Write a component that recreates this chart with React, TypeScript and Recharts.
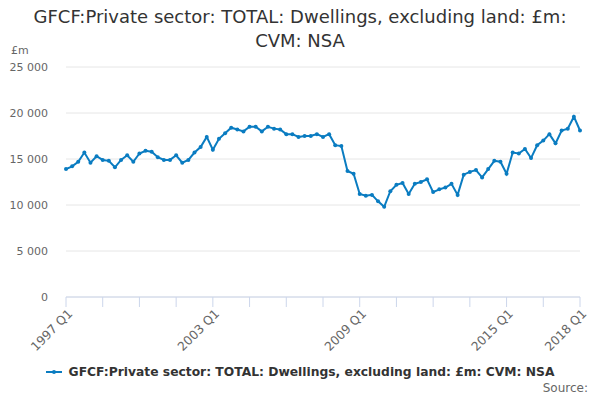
import React from 'react';
import { LineChart, Line, XAxis, YAxis, CartesianGrid } from 'recharts';

const quarters: string[] = [];
for (let y = 1997; y <= 2018; y++) {
  for (let q = 1; q <= 4; q++) {
    if (y === 2018 && q > 1) break;
    quarters.push(`${y} Q${q}`);
  }
}

const values: number[] = [
  13900, 14200, 14700, 15700, 14600, 15300, 14900, 14800, 14100, 14900,
  15400, 14700, 15600, 15900, 15800, 15200, 14900, 14900, 15400, 14600,
  14900, 15700, 16300, 17400, 16000, 17200, 17800, 18400, 18200, 18000,
  18500, 18500, 18000, 18500, 18300, 18200, 17700, 17700, 17400, 17500,
  17500, 17700, 17400, 17700, 16500, 16400, 13700, 13400, 11200, 11000,
  11100, 10400, 9800, 11500, 12200, 12400, 11200, 12300, 12500, 12800,
  11400, 11700, 11900, 12300, 11100, 13300, 13600, 13800, 13000, 13900,
  14800, 14700, 13400, 15700, 15600, 16100, 15100, 16500, 17000, 17700,
  16700, 18100, 18300, 19600, 18100,
];

const xTicks: number[] = [0, 6, 12, 18, 24, 30, 36, 42, 48, 54, 60, 66, 72, 78, 84];
const xLabelIdx: number[] = [0, 24, 48, 72, 84];
const yTicks: number[] = [0, 5000, 10000, 15000, 20000, 25000];

const seriesName = 'GFCF:Private sector: TOTAL: Dwellings, excluding land: £m: CVM: NSA';
const data = values.map((v, i) => ({ idx: i, label: quarters[i], value: v }));

const FONT = '"DejaVu Sans", sans-serif';
const LINE_COLOR = '#0a7cc1';

const fmtY = (v: number) => {
  if (v === 0) return '0';
  const s = String(v);
  return s.slice(0, s.length - 3) + ' ' + s.slice(s.length - 3);
};

const XTick = (props: any) => {
  const { x, y, payload } = props;
  const i = payload.value as number;
  if (!xLabelIdx.includes(i)) return null;
  return (
    <g transform={`translate(${x + 3},${y + 4})`}>
      <text
        x={0}
        y={0}
        dy={4}
        dx={2}
        textAnchor="end"
        transform="rotate(-45)"
        fill="#666666"
        fontSize={12.3}
        fontFamily={FONT}
      >
        {quarters[i]}
      </text>
    </g>
  );
};

export default function App() {
  return (
    <div style={{ position: 'absolute', left: 0, top: 0, width: 600, height: 400, background: '#fff' }}>
      <div
        style={{
          position: 'absolute',
          left: 0,
          top: 5,
          width: 600,
          textAlign: 'center',
          fontFamily: FONT,
          fontSize: 18,
          lineHeight: '24px',
          color: '#333333',
        }}
      >
        GFCF:Private sector: TOTAL: Dwellings, excluding land: £m:
        <br />
        CVM: NSA
      </div>
      <div
        style={{
          position: 'absolute',
          left: 11,
          top: 44,
          fontFamily: FONT,
          fontSize: 11,
          color: '#666666',
        }}
      >
        £m
      </div>
      <div
        style={{
          position: 'absolute',
          left: 0,
          top: 365,
          width: 600,
          display: 'flex',
          justifyContent: 'center',
          alignItems: 'center',
          fontFamily: FONT,
        }}
      >
        <svg width={18} height={10} style={{ marginRight: 5 }}>
          <line x1={0} y1={5} x2={16} y2={5} stroke={LINE_COLOR} strokeWidth={2} />
          <circle cx={8} cy={5} r={2} fill={LINE_COLOR} />
        </svg>
        <span style={{ fontSize: 12.3, fontWeight: 'bold', color: '#333333' }}>{seriesName}</span>
      </div>
      <div
        style={{
          position: 'absolute',
          right: 12,
          top: 381,
          fontFamily: FONT,
          fontSize: 12,
          color: '#666666',
        }}
      >
        Source:
      </div>
      <LineChart
        width={600}
        height={400}
        data={data}
        margin={{ top: 67, right: 20, bottom: 0, left: 0 }}
        style={{ position: 'absolute', left: 0, top: 0 }}
      >
        <CartesianGrid vertical={false} stroke="#e6e6e6" />
        <XAxis
          dataKey="idx"
          type="number"
          domain={[0, 84]}
          ticks={xTicks}
          interval={0}
          tick={<XTick />}
          tickSize={10}
          tickLine={{ stroke: '#ccd6eb' }}
          axisLine={{ stroke: '#ccd6eb' }}
          height={103}
        />
        <YAxis
          domain={[0, 25000]}
          ticks={yTicks}
          width={66}
          axisLine={false}
          tickLine={false}
          tickSize={8}
          tickMargin={10}
          tickFormatter={fmtY}
          tick={{ fill: '#666666', fontSize: 11, fontFamily: FONT }}
        />
        <Line
          type="linear"
          dataKey="value"
          name={seriesName}
          stroke={LINE_COLOR}
          strokeWidth={2}
          dot={{ r: 2, fill: LINE_COLOR, stroke: LINE_COLOR, strokeWidth: 0 }}
          activeDot={false}
          isAnimationActive={false}
        />
      </LineChart>
    </div>
  );
}
